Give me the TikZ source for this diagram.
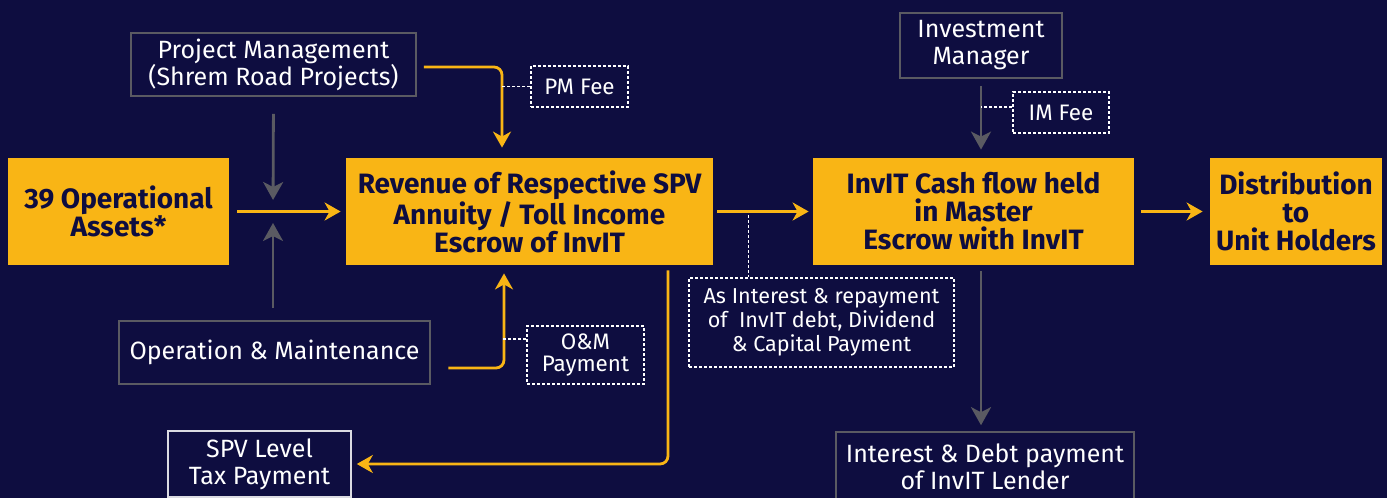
\documentclass[tikz,border=0pt]{standalone}
\usepackage{fontspec}
\setmainfont{Fira Sans}
\newfontfamily\headfont{Fira Sans}
\usetikzlibrary{arrows.meta}
\definecolor{navy}{RGB}{14,13,64}
\definecolor{gold}{RGB}{249,181,21}
\definecolor{edge}{RGB}{90,90,98}
\begin{document}
\begin{tikzpicture}[x=0.5pt,y=-0.5pt,
    goldbox/.style={fill=gold,text=navy,align=center,inner sep=0pt,
      font=\headfont\bfseries\fontsize{14}{14}\selectfont},
    darkbox/.style={draw=edge,line width=0.8pt,text=white,align=center,inner sep=0pt,
      font=\fontsize{12.5}{13.5}\selectfont},
    feebox/.style={draw=white,dash pattern=on 1.5pt off 1pt,line width=0.6pt,text=white,
      align=center,inner sep=0pt,font=\fontsize{11.2}{11}\selectfont},
    flow/.style={draw=gold,line width=1.4pt,-{Stealth[length=8pt,width=9pt,inset=2.5pt]}},
    greyflow/.style={draw=edge,line width=1.4pt,-{Stealth[length=9pt,width=10pt,inset=2.5pt]}},
    dashline/.style={draw=white,dash pattern=on 1.5pt off 1pt,line width=0.6pt}]
  \fill[navy] (0,0) rectangle (1387,498);
  \useasboundingbox (0,0) rectangle (1387,498);

  \node[goldbox,minimum width=110.5pt,minimum height=53.5pt](assets)at(118.5,211.5){39 Operational\\Assets*};
  \node[goldbox,minimum width=183.5pt,minimum height=53.5pt](revenue)at(529.5,211.5){Revenue of Respective SPV\\Annuity / Toll Income\\Escrow of InvIT};
  \node[goldbox,minimum width=160.5pt,minimum height=53.5pt](cash)at(973.5,211.5){InvIT Cash flow held\\in Master\\Escrow with InvIT};
  \node[goldbox,minimum width=86pt,minimum height=53.5pt](dist)at(1296,211.5){Distribution\\to\\Unit Holders};

  \node[darkbox,minimum width=142.5pt,minimum height=31.5pt](pm)at(273.5,64.5){Project Management\\(Shrem Road Projects)};
  \node[feebox,minimum width=48.5pt,minimum height=20.5pt](pmfee)at(579.5,86.5){PM Fee};
  \node[darkbox,minimum width=81pt,minimum height=32.5pt](im)at(981,45.5){Investment\\Manager};
  \node[feebox,minimum width=48pt,minimum height=20.5pt](imfee)at(1061,112.5){IM Fee};
  \node[darkbox,minimum width=155.5pt,minimum height=31.5pt](om)at(274.5,352.5){Operation \& Maintenance};
  \node[feebox,minimum width=58.5pt,minimum height=29pt](omfee)at(585.5,355){O\&M\\Payment};
  \node[darkbox,draw=white!85!navy,minimum width=91.5pt,minimum height=33pt](tax)at(259.5,464){SPV Level\\Tax Payment};
  \node[feebox,minimum width=132.5pt,minimum height=44.5pt,font=\fontsize{10.8}{12}\selectfont](debt)at(821.5,322.5){As Interest \& repayment\\of~ InvIT debt, Dividend\\\& Capital Payment};
  \node[darkbox,minimum width=149pt,minimum height=34.5pt](lender)at(985,466.5){Interest \& Debt payment\\of InvIT Lender};

  \coordinate(mid)at(273,211);
  \coordinate(rc)at(748.5,215);

  \draw[flow,shorten <=4pt,shorten >=2.5pt](assets)--(revenue);
  \draw[flow,shorten <=2pt,shorten >=2pt](revenue)--(cash);
  \draw[flow,shorten <=3.5pt,shorten >=3.5pt](cash)--(dist);
  \draw[greyflow,shorten <=8.5pt,shorten >=5.5pt](pm.south)--(mid);
  \draw[greyflow,shorten <=6pt,shorten >=6pt](om.north-|mid)--(mid);
  \draw[greyflow,shorten <=3.5pt,shorten >=4pt](im.south)--(im.south|-cash.north);
  \draw[greyflow,shorten <=3pt,shorten >=3pt](im.south|-cash.south)--(im.south|-lender.north);

  \draw[flow,rounded corners=4pt,shorten >=5pt]([xshift=3.5pt,yshift=-1.25pt]pm.east)-|([xshift=-13.75pt]revenue.north);
  \draw[flow,rounded corners=4pt,shorten >=4pt]([xshift=8.75pt,yshift=-7.75pt]om.east)-|([xshift=-12.75pt]revenue.south);
  \draw[flow,rounded corners=4pt,shorten <=2.5pt,shorten >=2.5pt]([xshift=69.25pt]revenue.south)|-(tax.east);

  \draw[dashline](pmfee.west)--++(-29,0);
  \draw[dashline]([yshift=8pt]omfee.west)--++(-23,0);
  \draw[dashline]([yshift=2.75pt]imfee.west)--([yshift=2.75pt]imfee.west-|im.south);
  \draw[dashline](rc)--(rc|-debt.north);
\end{tikzpicture}
\end{document}
